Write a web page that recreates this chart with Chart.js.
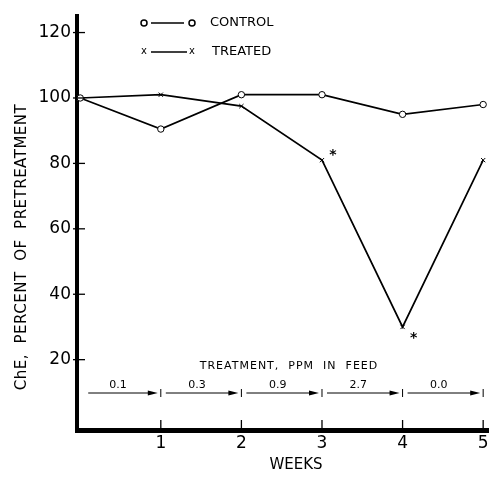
<!DOCTYPE html>
<html lang="en">
<head>
<meta charset="UTF-8">
<title>ChE, percent of pretreatment</title>
<script src="https://cdn.jsdelivr.net/npm/chart.js"></script>
<style>
  html, body { margin: 0; padding: 0; background: #fff; }
  #wrap { width: 493px; height: 492px; }
</style>
</head>
<body>
<div id="wrap"><canvas id="chart"></canvas></div>
<script>
// values
const weeks = [0, 1, 2, 3, 4, 5];
const control = [100, 90.5, 101, 101, 95, 98];
const treated = [100, 101, 97.5, 81, 30, 81];
const yTicks = [20, 40, 60, 80, 100, 120];
const xTicks = [1, 2, 3, 4, 5];
// dosing periods (week start, week end, ppm in feed)
const periodStart = [0, 1, 2, 3, 4];
const periodEnd = [1, 2, 3, 4, 5];
const doses = ['0.1', '0.3', '0.9', '2.7', '0.0'];
const significantWeeks = [3, 4]; // marked with an asterisk

const FONT = '"DejaVu Sans", sans-serif';

function pts(ys) {
  return weeks.map((w, i) => ({ x: w, y: ys[i] }));
}

// draws legend, treatment arrows, asterisks, tick marks and axis titles
const extras = {
  id: 'extras',
  afterDraw(chart) {
    const ctx = chart.ctx;
    const xs = chart.scales.x, ys = chart.scales.y;
    const area = chart.chartArea;
    ctx.save();
    ctx.strokeStyle = '#000';
    ctx.fillStyle = '#000';
    ctx.lineWidth = 1.3;

    // tick marks
    yTicks.forEach(v => {
      const py = ys.getPixelForValue(v);
      ctx.beginPath();
      ctx.moveTo(area.left - 4, py);
      ctx.lineTo(area.left + 8, py);
      ctx.stroke();
    });
    xTicks.forEach(v => {
      const px = xs.getPixelForValue(v);
      ctx.beginPath();
      ctx.moveTo(px, area.bottom);
      ctx.lineTo(px, area.bottom - 10);
      ctx.stroke();
    });

    // legend
    ctx.font = '13px ' + FONT;
    ctx.textBaseline = 'middle';
    ctx.textAlign = 'left';
    ctx.lineWidth = 1.5;
    ctx.beginPath();
    ctx.arc(144, 23, 3, 0, Math.PI * 2);
    ctx.stroke();
    ctx.beginPath();
    ctx.arc(192, 23, 3, 0, Math.PI * 2);
    ctx.stroke();
    ctx.beginPath();
    ctx.moveTo(151, 23); ctx.lineTo(184, 23);
    ctx.stroke();
    ctx.fillText('CONTROL', 210, 23);
    ctx.font = '10px ' + FONT;
    ctx.textAlign = 'center';
    ctx.fillText('x', 144, 51);
    ctx.fillText('x', 192, 51);
    ctx.beginPath();
    ctx.moveTo(151, 52); ctx.lineTo(187, 52);
    ctx.stroke();
    ctx.font = '13px ' + FONT;
    ctx.textAlign = 'left';
    ctx.fillText('TREATED', 212, 52);

    // asterisks next to significant points
    ctx.font = 'bold 14px ' + FONT;
    ctx.textAlign = 'center';
    significantWeeks.forEach((w, k) => {
      const px = xs.getPixelForValue(w);
      const py = ys.getPixelForValue(treated[weeks.indexOf(w)]);
      ctx.fillText('*', px + 11, py + (k === 0 ? -5 : 11));
    });

    // treatment periods
    ctx.font = '11px ' + FONT;
    ctx.letterSpacing = '1px';
    ctx.fillText('TREATMENT,  PPM  IN  FEED', 289, 366);
    ctx.letterSpacing = '0px';
    const ay = 393;
    ctx.lineWidth = 1;
    periodStart.forEach((s, i) => {
      const x0 = xs.getPixelForValue(s) + (i === 0 ? 8 : 5);
      const x1 = xs.getPixelForValue(periodEnd[i]) - 3;
      ctx.beginPath();
      ctx.moveTo(x0, ay); ctx.lineTo(x1 - 8, ay);
      ctx.stroke();
      ctx.beginPath();
      ctx.moveTo(x1, ay); ctx.lineTo(x1 - 10, ay - 2.5); ctx.lineTo(x1 - 10, ay + 2.5);
      ctx.closePath();
      ctx.fill();
      // boundary bar
      const bx = xs.getPixelForValue(periodEnd[i]);
      ctx.beginPath();
      ctx.moveTo(bx, ay - 4); ctx.lineTo(bx, ay + 4);
      ctx.stroke();
      ctx.fillText(doses[i], (x0 + x1) / 2 - 5, ay - 8);
    });

    // axis titles
    ctx.font = '15px ' + FONT;
    ctx.textAlign = 'center';
    ctx.fillText('WEEKS', 296, 465);
    ctx.translate(22, 247);
    ctx.rotate(-Math.PI / 2);
    ctx.letterSpacing = '0.5px';
    ctx.fillText('ChE,  PERCENT  OF  PRETREATMENT', 0, 0);
    ctx.restore();
  }
};

new Chart(document.getElementById('chart'), {
  type: 'line',
  data: {
    datasets: [
      {
        label: 'CONTROL',
        data: pts(control),
        borderColor: '#000',
        borderWidth: 1.7,
        pointStyle: 'circle',
        pointRadius: 3.2,
        pointBorderWidth: 1,
        pointBackgroundColor: '#fff',
        pointBorderColor: '#000',
        tension: 0
      },
      {
        label: 'TREATED',
        data: pts(treated),
        borderColor: '#000',
        borderWidth: 1.7,
        pointStyle: 'crossRot',
        pointRadius: 3,
        pointBorderWidth: 1,
        pointBorderColor: '#000',
        tension: 0
      }
    ]
  },
  options: {
    responsive: true,
    maintainAspectRatio: false,
    animation: false,
    layout: { padding: { top: 12, right: 3, left: 0, bottom: 0 } },
    plugins: { legend: { display: false }, tooltip: { enabled: false } },
    scales: {
      x: {
        type: 'linear',
        min: -0.04,
        max: 5.06,
        afterBuildTicks: s => { s.ticks = xTicks.map(v => ({ value: v })); },
        afterFit: s => { s.height = 62; },
        grid: { display: false, drawTicks: false },
        border: { display: true, color: '#000', width: 5 },
        ticks: { color: '#000', padding: 3, font: { family: FONT, size: 17 } }
      },
      y: {
        min: -1.5,
        max: 125,
        afterBuildTicks: s => { s.ticks = yTicks.map(v => ({ value: v })); },
        afterFit: s => { s.width = 77; },
        grid: { display: false, drawTicks: false },
        border: { display: true, color: '#000', width: 4 },
        ticks: { color: '#000', padding: 6, font: { family: FONT, size: 17 } }
      }
    }
  },
  plugins: [extras]
});
</script>
</body>
</html>
